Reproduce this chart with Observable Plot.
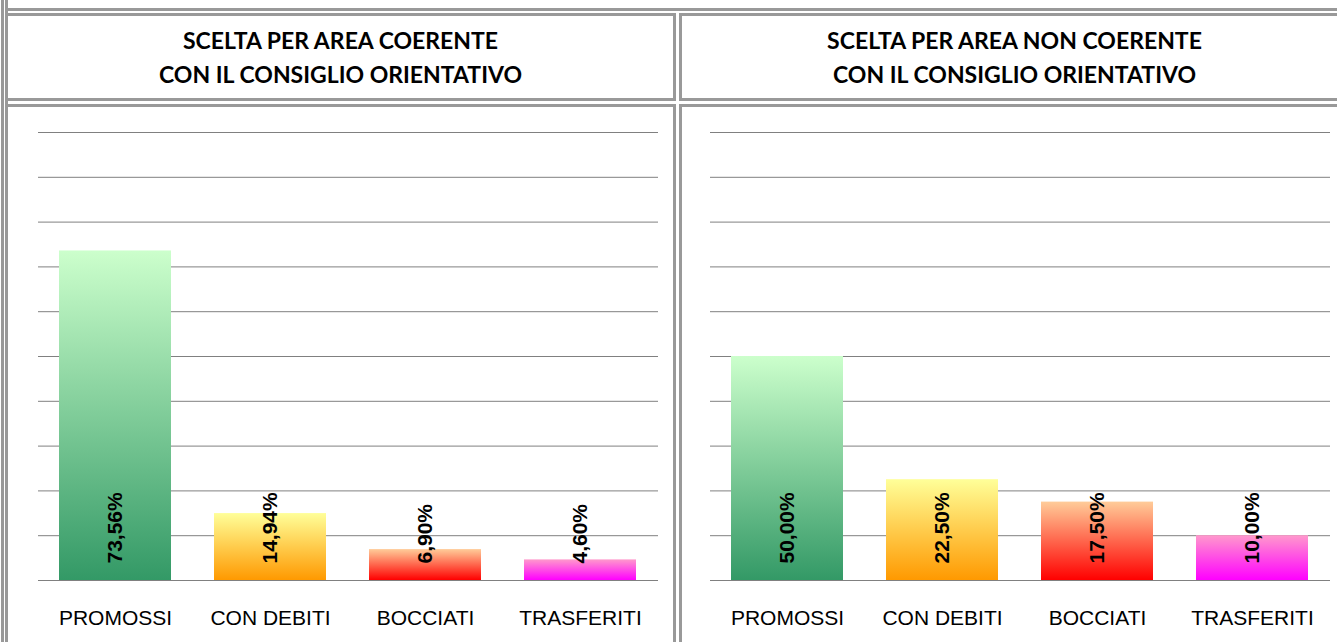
<!DOCTYPE html>
<html><head><meta charset="utf-8">
<script src="https://cdn.jsdelivr.net/npm/d3@7"></script>
<script src="https://cdn.jsdelivr.net/npm/@observablehq/plot@0.6"></script>
<style>
body{margin:0;width:1337px;height:642px;overflow:hidden;background:#fff;position:relative;font-family:"Liberation Sans",Arial,sans-serif}
.ln{position:absolute;background:#999}
.cell{position:absolute;border:3px solid #999;box-sizing:border-box}
.title{position:absolute;text-align:center;font-family:Lato,"Open Sans",sans-serif;font-weight:bold;font-size:23px;line-height:32px;color:#000;white-space:nowrap}
.plot{position:absolute}
</style></head><body>
<svg width="0" height="0" style="position:absolute">
  <defs id="grads"></defs>
</svg>
<div class="ln" style="left:1px;top:0;width:3px;height:642px"></div>
<div class="ln" style="left:5px;top:0;width:3px;height:642px"></div>
<div class="ln" style="left:5px;top:8px;width:1340px;height:3px"></div>
<div class="cell" style="left:5px;top:13px;width:671px;height:88px"></div>
<div class="cell" style="left:679px;top:13px;width:700px;height:88px"></div>
<div class="cell" style="left:5px;top:104px;width:671px;height:600px"></div>
<div class="cell" style="left:679px;top:104px;width:700px;height:600px"></div>
<div id="t1a" class="title" style="left:8px;width:665px;top:24px"></div>
<div id="t1b" class="title" style="left:8px;width:665px;top:58px"></div>
<div id="t2a" class="title" style="left:682px;width:665px;top:24px"></div>
<div id="t2b" class="title" style="left:682px;width:665px;top:58px"></div>
<div id="p1" class="plot" style="left:8px;top:107px"></div>
<div id="p2" class="plot" style="left:682px;top:107px"></div>
<script>
// ---- data ----
const categories = ["PROMOSSI", "CON DEBITI", "BOCCIATI", "TRASFERITI"];
const coerenteValues = [73.56, 14.94, 6.90, 4.60];
const nonCoerenteValues = [50.00, 22.50, 17.50, 10.00];
const gridTicks = [0, 10, 20, 30, 40, 50, 60, 70, 80, 90, 100];
const titleCoerente = ["SCELTA PER AREA COERENTE", "CON IL CONSIGLIO ORIENTATIVO"];
const titleNonCoerente = ["SCELTA PER AREA NON COERENTE", "CON IL CONSIGLIO ORIENTATIVO"];
const gradTop = ["#ccffcc", "#ffff99", "#ffcc99", "#ff99cc"];
const gradBottom = ["#339966", "#ff9900", "#ff0000", "#ff00ff"];

// gradients
const defs = d3.select("#grads");
categories.forEach((c, i) => {
  const g = defs.append("linearGradient").attr("id", "g" + i)
    .attr("x1", 0).attr("y1", 0).attr("x2", 0).attr("y2", 1);
  g.append("stop").attr("offset", "0%").attr("stop-color", gradTop[i]);
  g.append("stop").attr("offset", "100%").attr("stop-color", gradBottom[i]);
});

document.getElementById("t1a").textContent = titleCoerente[0];
document.getElementById("t1b").textContent = titleCoerente[1];
document.getElementById("t2a").textContent = titleNonCoerente[0];
document.getElementById("t2b").textContent = titleNonCoerente[1];

const fmt = v => v.toFixed(2).replace(".", ",") + "%";

function chart(values, width, marginLeft) {
  const data = categories.map((c, i) => ({cat: c, val: values[i], grad: `url(#g${i})`}));
  return Plot.plot({
    width, height: 535,
    marginLeft, marginRight: width - marginLeft - 620, marginTop: 25, marginBottom: 62,
    style: {fontFamily: "'Liberation Sans', Arial, sans-serif", fontSize: "21px", background: "transparent", overflow: "visible", color: "#000"},
    x: {domain: categories, paddingInner: 0.277, paddingOuter: 0.1385, label: null},
    y: {domain: [0, 100], axis: null},
    color: {type: "identity"},
    marks: [
      Plot.ruleY(gridTicks, {stroke: "#808080", strokeWidth: 1}),
      Plot.barY(data, {x: "cat", y: "val", fill: "grad"}),
      Plot.text(data, {x: "cat", y: () => 0, text: d => fmt(d.val), rotate: -90, textAnchor: "start", lineAnchor: "middle", dy: -17, fontWeight: "bold", fontSize: 21, fill: "#000"}),
      Plot.axisX({tickSize: 0, tickPadding: 30, fontSize: 21, label: null, fill: "#000"})
    ]
  });
}

document.getElementById("p1").append(chart(coerenteValues, 665, 30));
document.getElementById("p2").append(chart(nonCoerenteValues, 655, 28));
</script>
</body></html>
